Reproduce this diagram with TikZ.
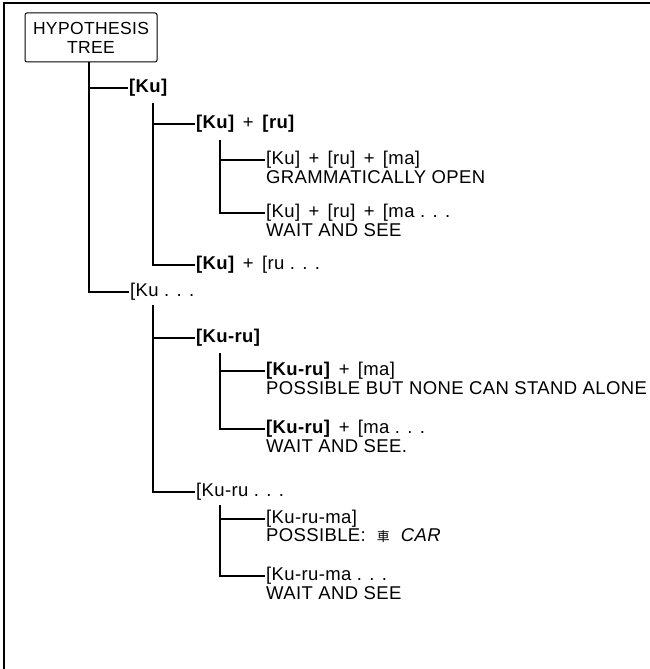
\documentclass[tikz,border=0pt]{standalone}
\usepackage{fontspec}
\setmainfont[LetterSpace=2]{Liberation Sans}
\newfontfamily\cjk{Noto Sans CJK JP}
\newcommand\plusgap{\hspace{0.45em}+\hspace{0.45em}}
\begin{document}
\begin{tikzpicture}[x=1pt,y=-1pt,
  font=\fontsize{18.5}{20}\selectfont,
  lbl/.style={anchor=west,inner sep=1pt},
  note/.style={anchor=west,inner sep=1pt},
  branch/.style={line width=1.2pt},
  frame/.style={line width=2pt}]
\useasboundingbox (0,0) rectangle (650,669);
% outer frame (top and left only)
\draw[frame] (650,3) -- (4,3) -- (4,669);
% root
\node[draw,rounded corners=2pt,line width=1pt,minimum width=132pt,minimum height=49pt,align=center,inner sep=2pt,font=\fontsize{17.5}{19}\selectfont] (root) at (91,37.5) {HYPOTHESIS\\TREE};
% level 1
\node[lbl] (ku) at (128,88) {\textbf{[Ku]}};
\node[lbl] (kudots) at (129,292) {[Ku . . .};
% level 2 under [Ku]
\node[lbl] (kuplusru) at (195,124) {\textbf{[Ku]}\plusgap\textbf{[ru]}};
\node[lbl] (kuplusrudots) at (195,265) {\textbf{[Ku]}\plusgap[ru . . .};
% level 3 under [Ku] + [ru]
\node[lbl] (kurumaA) at (265,160) {[Ku]\plusgap[ru]\plusgap[ma]};
\node[note] (gram) at (265,177) {GRAMMATICALLY OPEN};
\node[lbl] (kurumaB) at (265,213) {[Ku]\plusgap[ru]\plusgap[ma . . .};
\node[note] (waitA) at (265,230) {WAIT AND SEE};
% level 2 under [Ku ...
\node[lbl] (kuru) at (195,338) {\textbf{[Ku-ru]}};
\node[lbl] (kurudots) at (195,492) {[Ku-ru . . .};
% level 3 under [Ku-ru]
\node[lbl] (kurumaC) at (265,371) {\textbf{[Ku-ru]}\plusgap[ma]};
\node[note] (poss) at (265,388) {POSSIBLE BUT NONE CAN STAND ALONE};
\node[lbl] (kurumaD) at (265,429) {\textbf{[Ku-ru]}\plusgap[ma . . .};
\node[note] (waitB) at (265,446) {WAIT AND SEE.};
% level 3 under [Ku-ru ...
\node[lbl] (kurumaE) at (265,519) {[Ku-ru-ma]};
\node[note] (car) at (265,536) {POSSIBLE: \ {\cjk\fontsize{13}{14}\selectfont 車}\ \ \textit{CAR}};
\node[lbl] (kurumaF) at (265,576) {[Ku-ru-ma . . .};
\node[note] (waitC) at (265,593) {WAIT AND SEE};
% spine start points
\coordinate (s0) at (89,62);
\coordinate (s1) at (153,103);
\coordinate (s2) at (220,140);
\coordinate (s3) at (153,305);
\coordinate (s4) at (220,353);
\coordinate (s5) at (220,505);
% connectors
\draw[branch] (s0) |- (ku.west);
\draw[branch] (s0) |- (kudots.west);
\draw[branch] (s1) |- (kuplusru.west);
\draw[branch] (s1) |- (kuplusrudots.west);
\draw[branch] (s2) |- (kurumaA.west);
\draw[branch] (s2) |- (kurumaB.west);
\draw[branch] (s3) |- (kuru.west);
\draw[branch] (s3) |- (kurudots.west);
\draw[branch] (s4) |- (kurumaC.west);
\draw[branch] (s4) |- (kurumaD.west);
\draw[branch] (s5) |- (kurumaE.west);
\draw[branch] (s5) |- (kurumaF.west);
\end{tikzpicture}
\end{document}
